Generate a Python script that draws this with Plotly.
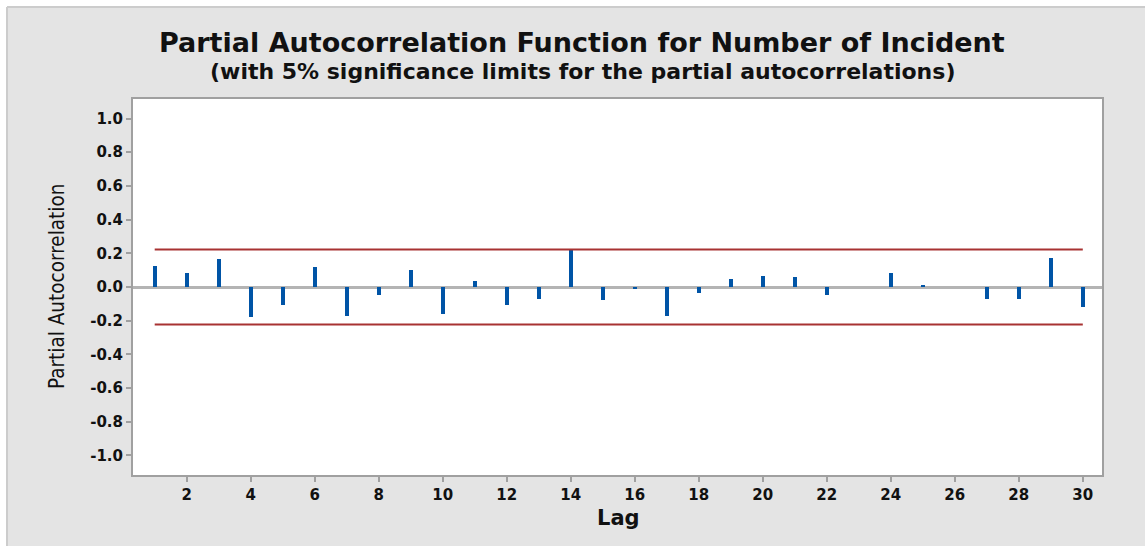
import plotly.graph_objects as go

# ---- data ----
lags = list(range(1, 31))
pacf = [0.125, 0.082, 0.168, -0.180, -0.105, 0.117, -0.172, -0.045, 0.098, -0.162,
        0.033, -0.105, -0.072, 0.218, -0.080, -0.014, -0.172, -0.037, 0.048, 0.064,
        0.057, -0.045, 0.0, 0.084, 0.012, 0.0, -0.072, -0.072, 0.172, -0.120]
sig_limit = 0.223
xticks = list(range(2, 31, 2))
yticks = [round(-1.0 + 0.2 * i, 1) for i in range(11)]

title_text = "Partial Autocorrelation Function for Number of Incident"
subtitle_text = "(with 5% significance limits for the partial autocorrelations)"

W, H = 1145, 546
L, R, T, B = 133, 43, 99, 71
pw, ph = W - L - R, H - T - B


def px(xpix):
    return (xpix - L) / pw


def py(ypix):
    return (H - B - ypix) / ph


fig = go.Figure()
fig.add_trace(go.Bar(x=lags, y=pacf, width=0.13, marker=dict(color="#0054a6", line=dict(width=0)),
                     hoverinfo="x+y", showlegend=False))
fig.add_trace(go.Scatter(x=[lags[0], lags[-1]], y=[sig_limit, sig_limit], mode="lines",
                         line=dict(color="#a83232", width=2), showlegend=False))
fig.add_trace(go.Scatter(x=[lags[0], lags[-1]], y=[-sig_limit, -sig_limit], mode="lines",
                         line=dict(color="#a83232", width=2), showlegend=False))

tick_font = dict(family="DejaVu Sans", size=15, color="#111111", weight="bold")

fig.update_xaxes(range=[0.322, 30.60], tickvals=xticks, ticktext=[str(v) for v in xticks],
                 showgrid=False, zeroline=False, showline=True, mirror=True,
                 linecolor="#a0a0a0", linewidth=2, ticks="outside", ticklen=5,
                 tickcolor="#a0a0a0", tickwidth=1.5, tickfont=tick_font)
fig.update_yaxes(range=[-1.116, 1.116], tickvals=yticks, ticktext=[f"{v:.1f}" for v in yticks],
                 showgrid=False, zeroline=True, zerolinecolor="#b4b4b4", zerolinewidth=2.5,
                 showline=True, mirror=True, linecolor="#a0a0a0", linewidth=2,
                 ticks="outside", ticklen=5, tickcolor="#a0a0a0", tickwidth=1.5,
                 tickfont=tick_font)

annotations = [
    dict(text=title_text, xref="paper", yref="paper", x=px(582), y=py(43),
         xanchor="center", yanchor="middle", showarrow=False,
         font=dict(family="DejaVu Sans", size=27, color="#111111", weight="bold")),
    dict(text=subtitle_text, xref="paper", yref="paper", x=px(582), y=py(72),
         xanchor="center", yanchor="middle", showarrow=False,
         font=dict(family="DejaVu Sans", size=22, color="#111111", weight="bold")),
    dict(text="Lag", xref="paper", yref="paper", x=px(618), y=py(518),
         xanchor="center", yanchor="middle", showarrow=False,
         font=dict(family="DejaVu Sans", size=21, color="#111111", weight="bold")),
    dict(text="Partial Autocorrelation", xref="paper", yref="paper", x=px(57), y=py(287),
         xanchor="center", yanchor="middle", showarrow=False, textangle=-90,
         font=dict(family="Liberation Sans Narrow, DejaVu Sans Condensed, sans-serif",
                   size=20.5, color="#111111")),
]

shapes = [
    dict(type="rect", xref="paper", yref="paper", x0=px(-5), x1=px(W + 5), y0=py(7), y1=py(-5),
         fillcolor="white", line=dict(width=0), layer="below"),
    dict(type="rect", xref="paper", yref="paper", x0=px(-5), x1=px(7), y0=py(H + 5), y1=py(-5),
         fillcolor="white", line=dict(width=0), layer="below"),
    dict(type="line", xref="paper", yref="paper", x0=px(7), x1=px(W + 5), y0=py(7), y1=py(7),
         line=dict(color="#cccccc", width=2), layer="below"),
    dict(type="line", xref="paper", yref="paper", x0=px(7), x1=px(7), y0=py(7), y1=py(H + 5),
         line=dict(color="#cccccc", width=2), layer="below"),
]

fig.update_layout(width=W, height=H, margin=dict(l=L, r=R, t=T, b=B),
                  paper_bgcolor="#e4e4e4", plot_bgcolor="white",
                  annotations=annotations, shapes=shapes, bargap=0, showlegend=False)

fig.write_html("out.html", include_plotlyjs=True, config={"displayModeBar": False})
